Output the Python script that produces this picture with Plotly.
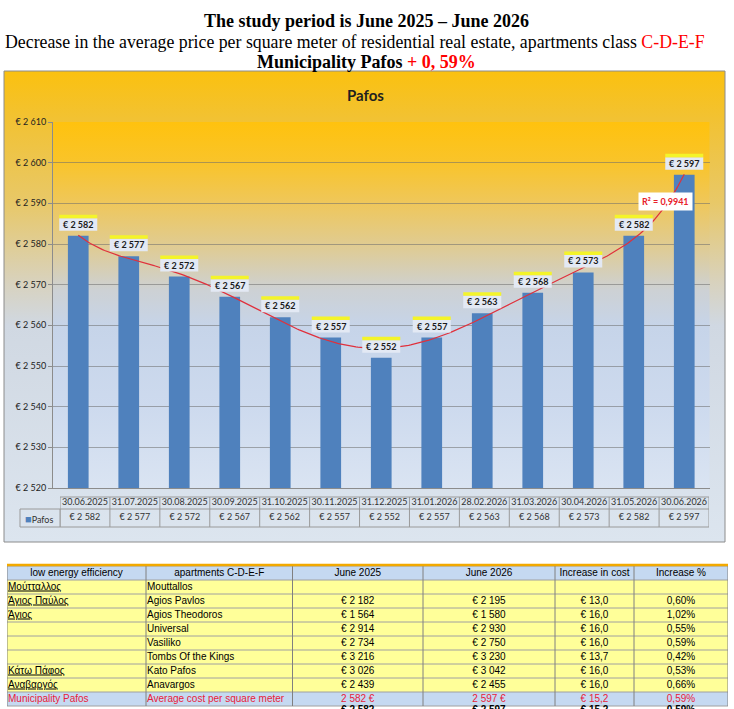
import numpy as np
import plotly.graph_objects as go

W, H = 734, 709

# chart data
dates = ['30.06.2025', '31.07.2025', '30.08.2025', '30.09.2025', '31.10.2025', '30.11.2025',
         '31.12.2025', '31.01.2026', '28.02.2026', '31.03.2026', '30.04.2026', '31.05.2026',
         '30.06.2026']
prices = [2582, 2577, 2572, 2567, 2562, 2557, 2552, 2557, 2563, 2568, 2573, 2582, 2597]
y_ticks = [2520, 2530, 2540, 2550, 2560, 2570, 2580, 2590, 2600, 2610]
series_name = 'Pafos'
r2_text = 'R² = 0,9941'
trend_order = 6

# table data
headers = ['low energy efficiency', 'apartments C-D-E-F', 'June 2025', 'June 2026',
           'Increase in cost', 'Increase %']
names_gr = ['Μούτταλλος', 'Άγιος Παύλος', 'Άγιος', '', '', '', 'Κάτω Πάφος', 'Αναβαργός',
            'Municipality Pafos']
names_en = ['Mouttallos', 'Agios Pavlos', 'Agios Theodoros', 'Universal', 'Vasiliko',
            'Tombs Of the Kings', 'Kato Pafos', 'Anavargos', 'Average cost per square meter']
june_2025 = ['', '€ 2 182', '€ 1 564', '€ 2 914', '€ 2 734', '€ 3 216', '€ 3 026', '€ 2 439', '2 582 €']
june_2026 = ['', '€ 2 195', '€ 1 580', '€ 2 930', '€ 2 750', '€ 3 230', '€ 3 042', '€ 2 455', '2 597 €']
inc_cost = ['', '€ 13,0', '€ 16,0', '€ 16,0', '€ 16,0', '€ 13,7', '€ 16,0', '€ 16,0', '€ 15,2']
inc_pct = ['', '0,60%', '1,02%', '0,55%', '0,59%', '0,42%', '0,53%', '0,66%', '0,59%']
total_row = ['', '', '€ 2 582', '€ 2 597', '€ 15,2', '0,59%']


def px(x):
    return x / W


def py(y):
    return 1 - y / H


def euro(v):
    return '€ ' + f'{v:,}'.replace(',', ' ')


def grad_rect(x0, y0, x1, y1, colors):
    # colors listed top -> bottom, coordinates in page pixels
    return go.Scatter(x=[x0, x1, x1, x0, x0], y=[y0, y0, y1, y1, y0], mode='none',
                      fill='toself', hoverinfo='skip', xaxis='x', yaxis='y',
                      fillgradient=dict(type='vertical', colorscale=colors, start=y0, stop=y1))


def note(x, y, text, size, color='#000000', family='Lato', xanchor='center', **kw):
    return dict(x=px(x), y=py(y), xref='paper', yref='paper', showarrow=False, text=text,
                xanchor=xanchor, yanchor='middle',
                font=dict(family=family, size=size, color=color), **kw)


idx = list(range(len(dates)))
n = len(dates)
fig = go.Figure()

# chart area and plot area backgrounds
fig.add_trace(grad_rect(4, 71, 725, 542, [
    [0, '#FBC10F'], [0.1, '#F2C232'], [0.28, '#E8C868'], [0.45, '#D8D2BE'],
    [0.54, '#D0D8E2'], [1, '#DCE5EF']]))
fig.add_trace(grad_rect(53, 122, 709.5, 488, [
    [0, '#FFC20E'], [0.11, '#F9C42A'], [0.22, '#EFC75A'], [0.35, '#DECC98'],
    [0.46, '#CDD1D4'], [0.56, '#C6D4E9'], [0.78, '#CDDAEE'], [1, '#DAE4F2']]))

# bars + trendline
fig.add_trace(go.Bar(x=idx, y=prices, width=0.41, name=series_name,
                     marker=dict(color='#4F81BD', line=dict(width=0)),
                     xaxis='x2', yaxis='y2', hoverinfo='skip'))
coef = np.polyfit(idx, prices, trend_order)
xs = np.linspace(idx[0], idx[-1], 300)
fig.add_trace(go.Scatter(x=xs, y=np.polyval(coef, xs), mode='lines',
                         line=dict(color='#E0303C', width=1.2),
                         xaxis='x2', yaxis='y2', hoverinfo='skip'))

# data table under the chart
fig.add_trace(go.Scatter(x=idx, y=[6] * n, mode='text', text=dates,
                         textfont=dict(family='Lato', size=9, color='#333333'),
                         xaxis='x3', yaxis='y3', cliponaxis=False, hoverinfo='skip'))
fig.add_trace(go.Scatter(x=idx, y=[21] * n, mode='text', text=[euro(v) for v in prices],
                         textfont=dict(family='Lato', size=9, color='#333333'),
                         xaxis='x3', yaxis='y3', cliponaxis=False, hoverinfo='skip'))

shapes = []
annotations = []

for i, v in enumerate(prices):
    shapes.append(dict(type='rect', xref='x2', yref='y2', xsizemode='pixel', ysizemode='pixel',
                       xanchor=i, yanchor=v, x0=-19, x1=19, y0=5, y1=17.5,
                       fillcolor='#E3E9F4', line=dict(width=0), layer='above'))
    shapes.append(dict(type='rect', xref='x2', yref='y2', xsizemode='pixel', ysizemode='pixel',
                       xanchor=i, yanchor=v, x0=-19, x1=19, y0=17.5, y1=21,
                       fillcolor='#F4F42A', line=dict(width=0), layer='above'))
    annotations.append(dict(x=i, y=v, xref='x2', yref='y2', text='<b>' + euro(v) + '</b>',
                            showarrow=False, xanchor='center', yanchor='middle', yshift=11.5,
                            font=dict(family='Lato', size=9, color='#1A1A1A')))

grid = '#9A9A9A'
for i in range(n + 1):
    shapes.append(dict(type='line', xref='x3', yref='paper', x0=i - 0.5, x1=i - 0.5,
                       y0=py(497), y1=py(527), line=dict(color=grid, width=1)))
for yy in (497, 509, 527):
    shapes.append(dict(type='line', xref='x3', yref='paper', x0=-0.5, x1=n - 0.5,
                       y0=py(yy), y1=py(yy), line=dict(color=grid, width=1)))
shapes.append(dict(type='rect', xref='paper', yref='paper', x0=px(20), x1=px(60),
                   y0=py(509), y1=py(527), line=dict(color=grid, width=1)))
annotations.append(note(23, 518, "<span style='color:#4F81BD;font-size:11px'>■</span>" + series_name,
                        9, '#333333', xanchor='left'))

# chart frame, title, R² label
shapes.append(dict(type='rect', xref='paper', yref='paper', x0=px(4), x1=px(725),
                   y0=py(71), y1=py(542), line=dict(color='#8C8C8C', width=1)))
annotations.append(note(365, 95, '<b>' + series_name + '</b>', 15, '#1F1F1F'))
annotations.append(note(665, 201, '<b>' + r2_text + '</b>', 9, '#E8202A',
                        bgcolor='#FFFFFF', borderpad=3))

# page titles
serif = 'Liberation Serif'
annotations.append(note(366, 21, '<b>The study period is June 2025 – June 2026</b>', 18, family=serif))
annotations.append(note(3, 42, 'Decrease in the average price per square meter of residential '
                        "real estate, apartments class <span style='color:#FF0000'>C-D-E-F</span>",
                        17.8, family=serif, xanchor='left'))
annotations.append(note(366, 62, "<b>Municipality Pafos <span style='color:#FF0000'>+ 0, 59%</span></b>",
                        18, family=serif))

# bottom table (x4 in pixels from its left edge, y4 in rows from its top edge)
col_widths = [139, 146.5, 130.5, 132, 79, 94]
edges = [0]
for w in col_widths:
    edges.append(edges[-1] + w)
row_h = 14
yellow, blue, red = '#FFFF99', '#C5D9F1', '#E8213A'
body = [names_gr, names_en, june_2025, june_2026, inc_cost, inc_pct]
nbody = len(names_en)
fills = [blue] + [yellow] * (nbody - 1) + [blue]
for r, f in enumerate(fills):
    shapes.append(dict(type='rect', xref='x4', yref='y4', x0=0, x1=edges[-1], y0=r, y1=r + 1,
                       fillcolor=f, line=dict(width=0), layer='below'))
for r in range(len(fills) + 1):
    shapes.append(dict(type='line', xref='x4', yref='y4', x0=0, x1=edges[-1], y0=r, y1=r,
                       line=dict(color='#A0A0A0', width=1), layer='below'))
for e in edges:
    shapes.append(dict(type='line', xref='x4', yref='y4', x0=e, x1=e, y0=0, y1=len(fills),
                       line=dict(color='#808080', width=1), layer='below'))
shapes.append(dict(type='line', xref='paper', yref='paper', x0=px(7), x1=px(728),
                   y0=py(565), y1=py(565), line=dict(color='#F2A900', width=2.5)))

tfont = 'Liberation Sans'
centers = [(edges[c] + edges[c + 1]) / 2 for c in range(len(col_widths))]
fig.add_trace(go.Scatter(x=centers, y=[0.5] * len(headers), mode='text', text=headers,
                         textposition='middle center',
                         textfont=dict(family=tfont, size=10, color='#000000'),
                         xaxis='x4', yaxis='y4', hoverinfo='skip'))
row_y = [r + 1.5 for r in range(nbody)]
row_col = ['#000000'] * (nbody - 1) + [red]
for c, col in enumerate(body):
    left = c < 2
    txt = list(col)
    if c == 0:
        txt = ["<span style='text-decoration:underline'>%s</span>" % s if s and k < nbody - 1 else s
               for k, s in enumerate(col)]
    fig.add_trace(go.Scatter(x=[edges[c] + 1 if left else centers[c]] * nbody, y=row_y,
                             mode='text', text=txt,
                             textposition='middle right' if left else 'middle center',
                             textfont=dict(family=tfont, size=10, color=row_col),
                             xaxis='x4', yaxis='y4', hoverinfo='skip'))
fig.add_trace(go.Scatter(x=centers, y=[nbody + 1.35] * len(centers), mode='text',
                         text=['<b>%s</b>' % t for t in total_row],
                         textfont=dict(family=tfont, size=10, color='#000000'),
                         xaxis='x4', yaxis='y4', hoverinfo='skip'))

fig.update_layout(
    width=W, height=H, margin=dict(l=0, r=0, t=0, b=0, pad=0, autoexpand=False),
    paper_bgcolor='#FFFFFF', plot_bgcolor='rgba(0,0,0,0)', showlegend=False,
    xaxis=dict(domain=[0, 1], range=[0, W], visible=False, fixedrange=True),
    yaxis=dict(domain=[0, 1], range=[H, 0], visible=False, fixedrange=True),
    xaxis2=dict(domain=[px(53), px(709.5)], range=[-0.5, n - 0.5], anchor='y2',
                showgrid=False, zeroline=False, showticklabels=False, ticks='',
                showline=True, linecolor='#8C8C8C', linewidth=1, automargin=False),
    yaxis2=dict(domain=[py(488), py(122)], range=[y_ticks[0], y_ticks[-1]], anchor='x2',
                tickvals=y_ticks, ticktext=[euro(t) for t in y_ticks],
                tickfont=dict(family='Lato', size=9, color='#222222'),
                showgrid=True, gridcolor='rgba(110,110,110,0.55)', gridwidth=1,
                zeroline=False, showline=True, linecolor='#8C8C8C', linewidth=1,
                ticks='outside', ticklen=4, tickcolor='#8C8C8C', automargin=False),
    xaxis3=dict(domain=[px(60), px(709)], range=[-0.5, n - 0.5], anchor='y3', visible=False),
    yaxis3=dict(domain=[py(527), py(497)], range=[30, 0], anchor='x3', visible=False),
    xaxis4=dict(domain=[px(7), px(728)], range=[0, edges[-1]], anchor='y4', visible=False),
    yaxis4=dict(domain=[0, py(566)], range=[(H - 566) / row_h, 0], anchor='x4', visible=False),
    shapes=shapes, annotations=annotations,
)

fig.write_html('out.html', config={'displayModeBar': False},
               post_script="document.body.style.margin='0px';")
